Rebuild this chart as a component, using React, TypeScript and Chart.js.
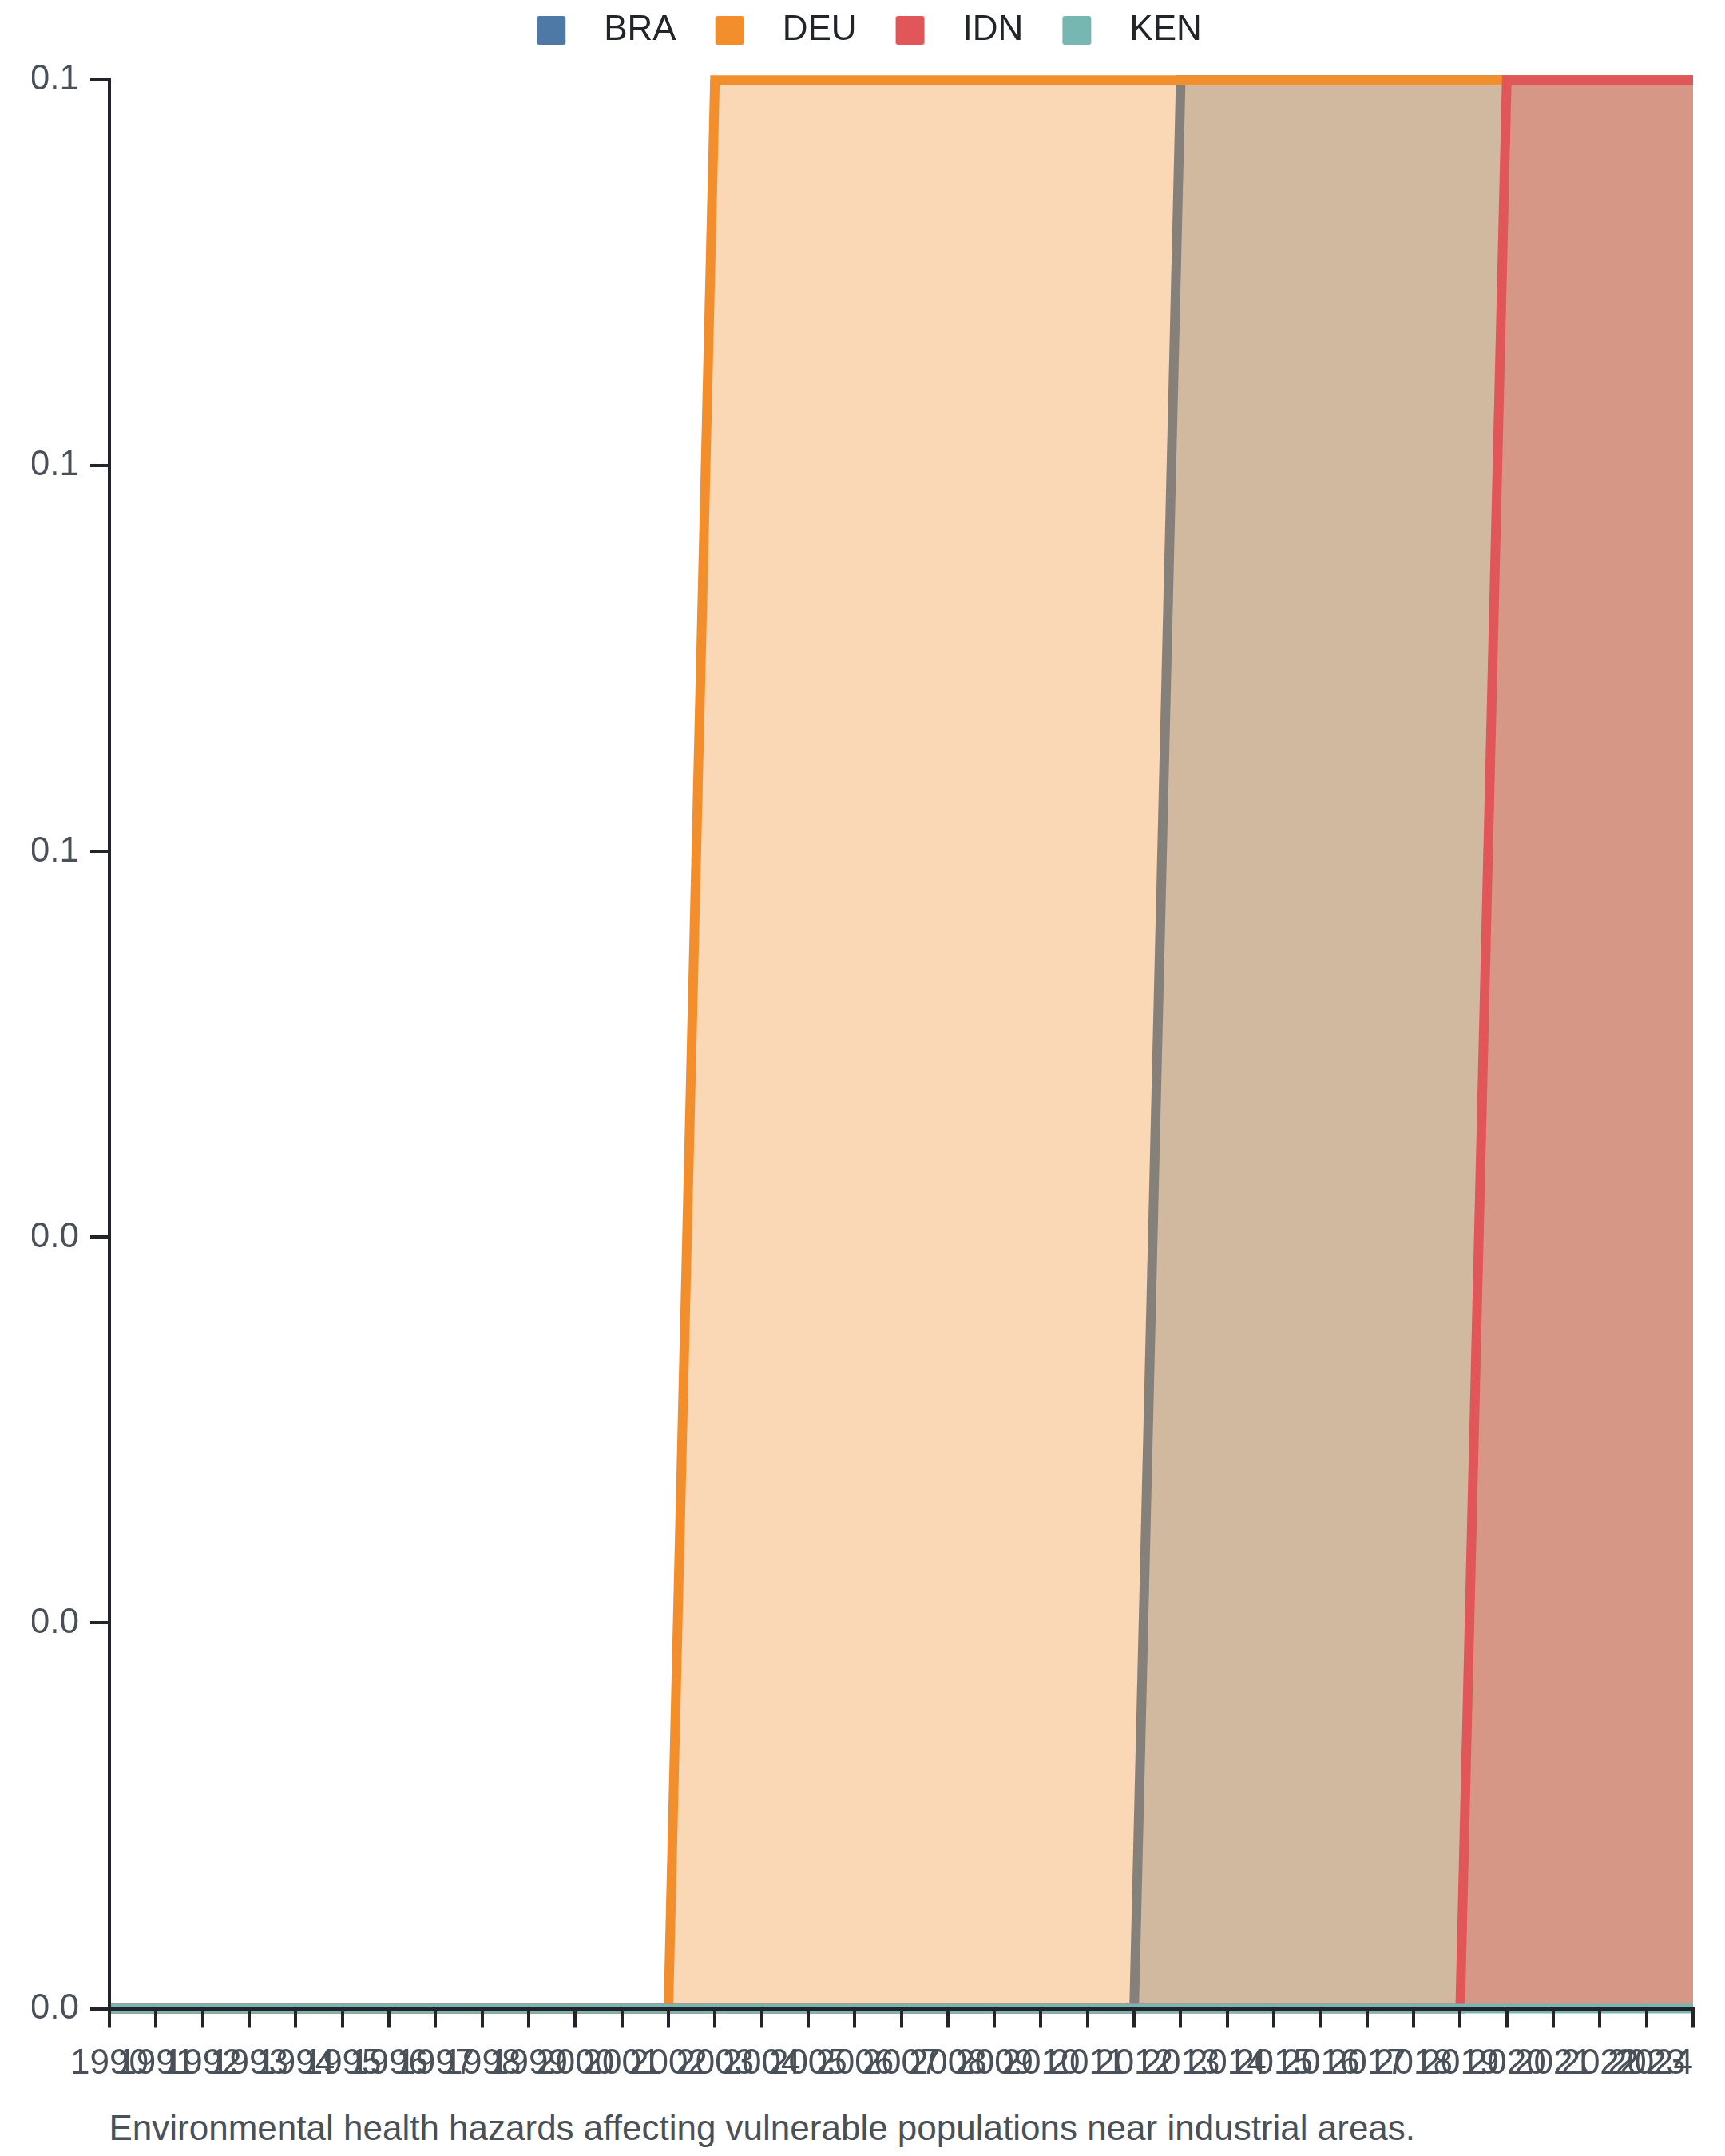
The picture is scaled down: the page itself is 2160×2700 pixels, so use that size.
import { useEffect, useRef } from 'react'
import { Chart, registerables } from 'chart.js'
import type { Plugin } from 'chart.js'
Chart.register(...registerables)

const years = [
  '1990', '1991', '1992', '1993', '1994', '1995', '1996', '1997', '1998', '1999',
  '2000', '2001', '2002', '2003', '2004', '2005', '2006', '2007', '2008', '2009',
  '2010', '2011', '2012', '2013', '2014', '2015', '2016', '2017', '2018', '2019',
  '2020', '2021', '2022', '2023', '2024',
]

// 1990 ... 2024
const bra = [0, 0, 0, 0, 0, 0, 0, 0, 0, 0, 0, 0, 0, 0, 0, 0, 0, 0, 0, 0, 0, 0, 0, 0.1, 0.1, 0.1, 0.1, 0.1, 0.1, 0.1, 0.1, 0.1, 0.1, 0.1, 0.1]
const deu = [0, 0, 0, 0, 0, 0, 0, 0, 0, 0, 0, 0, 0, 0.1, 0.1, 0.1, 0.1, 0.1, 0.1, 0.1, 0.1, 0.1, 0.1, 0.1, 0.1, 0.1, 0.1, 0.1, 0.1, 0.1, 0.1, 0.1, 0.1, 0.1, 0.1]
const idn = [0, 0, 0, 0, 0, 0, 0, 0, 0, 0, 0, 0, 0, 0, 0, 0, 0, 0, 0, 0, 0, 0, 0, 0, 0, 0, 0, 0, 0, 0, 0.1, 0.1, 0.1, 0.1, 0.1]
const ken = [0, 0, 0, 0, 0, 0, 0, 0, 0, 0, 0, 0, 0, 0, 0, 0, 0, 0, 0, 0, 0, 0, 0, 0, 0, 0, 0, 0, 0, 0, 0, 0, 0, 0, 0]

const names = ['BRA', 'DEU', 'IDN', 'KEN']
const colors = ['#4e79a7', '#f28e2b', '#e15759', '#76b7b2']
const series = [bra, deu, idn, ken]

const yMin = 0
const yMax = 0.1
const yStep = 0.02

const caption = 'Environmental health hazards affecting vulnerable populations near industrial areas.'

const FONT = '"Liberation Sans", Arial, Helvetica, sans-serif'
const INK = '#212529'
const MUTED = '#495057'

const alpha = (hex: string, a: number) => {
  const n = parseInt(hex.slice(1), 16)
  return `rgba(${(n >> 16) & 255},${(n >> 8) & 255},${n & 255},${a})`
}

// legend swatch with the empty room around it baked in
const swatch = (color: string) => {
  const c = document.createElement('canvas')
  c.width = 79; c.height = 36
  const g = c.getContext('2d')!
  g.fillStyle = color
  g.beginPath()
  g.roundRect(17, 0, 36, 36, 3)
  g.fill()
  return c
}

// more room between legend and plot
const legendGap: Plugin<'line'> = {
  id: 'legendGap',
  beforeInit(chart) {
    const legend = chart.legend as any
    if (!legend) return
    const fit = legend.fit
    legend.fit = function () {
      fit.call(this)
      this.height += 30.3
    }
  },
}

// axes go over the areas
const axisGrid = { z: 1, drawOnChartArea: false, drawTicks: true, tickLength: 24, tickWidth: 4, tickColor: INK, lineWidth: 4, color: INK }
const axisBorder = { z: 1, display: true, color: INK, width: 4 }

export default function App() {
  const ref = useRef<HTMLCanvasElement>(null)

  useEffect(() => {
    if (!ref.current) return
    const chart = new Chart(ref.current, {
      type: 'line',
      data: {
        labels: years,
        datasets: series.map((d, i) => ({
          label: names[i],
          data: d,
          borderColor: colors[i],
          backgroundColor: alpha(colors[i], 0.35),
          borderWidth: 12,
          fill: 'origin',
          tension: 0,
          clip: false as const,
          pointRadius: 0,
          pointHoverRadius: 0,
          pointStyle: swatch(colors[i]),
          order: series.length - 1 - i,
        })),
      },
      options: {
        responsive: false,
        animation: false,
        events: [],
        layout: { padding: { top: -16, left: 40, right: 40, bottom: 0 } },
        plugins: {
          tooltip: { enabled: false },
          legend: {
            position: 'top',
            labels: {
              usePointStyle: true,
              pointStyleWidth: 79,
              boxHeight: 36,
              padding: 32,
              color: INK,
              font: { family: FONT, size: 44 },
              sort: (a, b) => a.datasetIndex - b.datasetIndex,
            },
          },
        },
        scales: {
          x: {
            grid: axisGrid,
            border: axisBorder,
            ticks: {
              z: 1, autoSkip: false, maxRotation: 0, minRotation: 0, padding: 19,
              color: MUTED, font: { family: FONT, size: 44 },
              callback: (_v, i) => i === years.length - 1 ? years[i] + '        ' : years[i],
            },
            afterFit: (s) => { s.height = 104.5; s.paddingLeft = 0; s.paddingRight = 0 },
          },
          y: {
            min: yMin, max: yMax,
            grid: axisGrid,
            border: axisBorder,
            ticks: {
              z: 1, stepSize: yStep, padding: 14,
              color: MUTED, font: { family: FONT, size: 44 },
              callback: (v) => Number(v).toFixed(1),
            },
            afterFit: (s) => { s.width = 97; s.paddingTop = 0; s.paddingBottom = 0 },
          },
        },
      },
      plugins: [legendGap],
    })
    return () => chart.destroy()
  }, [])

  return (
    <div style={{ position: 'absolute', left: 0, top: 0, width: 2160, height: 2700, background: '#fff' }}>
      <canvas ref={ref} width={2160} height={2620} style={{ display: 'block' }} />
      <div style={{ position: 'absolute', left: 136.5, top: 2642.7, fontFamily: FONT, fontSize: 44, lineHeight: '44px', color: MUTED, whiteSpace: 'nowrap' }}>
        {caption}
      </div>
    </div>
  )
}
